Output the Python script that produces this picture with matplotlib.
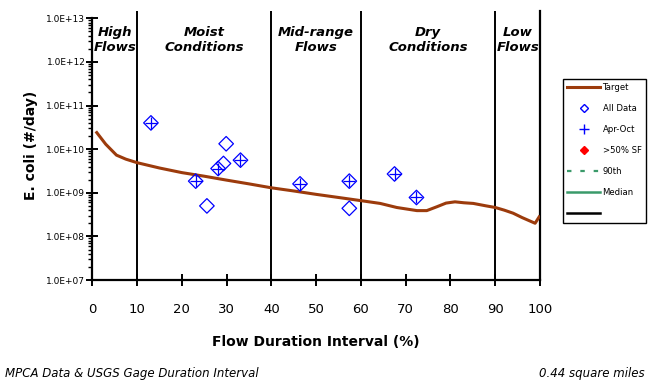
import numpy as np
import matplotlib
matplotlib.use("Agg")
import matplotlib.pyplot as plt
from matplotlib.lines import Line2D

# ----------------------------------------------------------
# Data
# ----------------------------------------------------------

# load duration target curve (flow percentile vs E. coli load)
target_x = [1, 3, 5.4, 7.5, 10, 15, 20, 25, 30, 35, 40, 45, 50, 55, 60, 64.3,
            68, 72.5, 74.7, 77, 79, 81, 83, 85.1, 88, 90, 92, 94, 96, 98.9, 99.8]
target_y = [2.4e10, 1.3e10, 7.3e9, 5.9e9, 4.9e9, 3.7e9, 2.9e9, 2.4e9, 1.95e9,
            1.6e9, 1.3e9, 1.1e9, 9.2e8, 7.8e8, 6.6e8, 5.7e8, 4.6e8, 3.9e8,
            3.9e8, 4.8e8, 5.8e8, 6.2e8, 5.9e8, 5.7e8, 5.0e8, 4.6e8, 4.0e8,
            3.4e8, 2.7e8, 2.0e8, 2.8e8]

# all monitoring samples
all_x = [13.1, 23.1, 25.6, 28.1, 29.3, 29.9, 33.1, 46.4, 57.4, 57.4, 67.5, 72.4]
all_y = [4.0e10, 1.85e9, 5.0e8, 3.6e9, 4.7e9, 1.33e10, 5.6e9, 1.6e9, 1.85e9,
         4.4e8, 2.7e9, 7.8e8]

# April - October samples
aprot_x = [13.1, 23.1, 28.1, 33.1, 46.4, 57.4, 67.5, 72.4]
aprot_y = [4.0e10, 1.85e9, 3.6e9, 5.6e9, 1.6e9, 1.85e9, 2.7e9, 7.8e8]

zones = [10, 40, 60, 90, 100]
zone_labels = ["High\nFlows", "Moist\nConditions", "Mid-range\nFlows",
               "Dry\nConditions", "Low\nFlows"]
zone_centers = [5, 25, 50, 75, 95]

ytick_vals = [1e7, 1e8, 1e9, 1e10, 1e11, 1e12, 1e13]
ytick_labels = ["1.0E+07", "1.0E+08", "1.0E+09", "1.0E+10", "1.0E+11",
                "1.0E+12", "1.0E+13"]

# ----------------------------------------------------------
# Plot
# ----------------------------------------------------------

brown = "#9c3b0c"
green = "#3a9a6a"

fig = plt.figure(figsize=(6.48, 3.83), dpi=100)
ax = fig.add_axes([0.1424, 0.2689, 0.6910, 0.7023])

ax.set_yscale("log")
ax.set_xlim(0, 100)
ax.set_ylim(1e7, 10 ** 13.167)

ax.plot(target_x, target_y, color=brown, linewidth=2.2, zorder=3)
ax.scatter(all_x, all_y, marker="D", s=55, facecolors="none",
           edgecolors="blue", linewidths=0.9, zorder=4)
ax.scatter(aprot_x, aprot_y, marker="+", s=75, color="blue",
           linewidths=0.9, zorder=5)

# flow zone dividers and labels
for z in zones[:-1]:
    ax.axvline(z, color="black", linewidth=1.4, zorder=2)
for xc, txt in zip(zone_centers, zone_labels):
    ax.text(xc, 10 ** 12.82, txt, ha="center", va="top", fontsize=9.5,
            fontstyle="italic", fontweight="bold", linespacing=1.15)

# spines and ticks
ax.spines["top"].set_visible(False)
ax.spines["left"].set_bounds(1e7, 1e13)
for s in ["left", "bottom", "right"]:
    ax.spines[s].set_linewidth(1.6)

ax.set_xticks(range(0, 101, 10))
ax.tick_params(axis="x", direction="inout", length=9, width=1.4,
               labelsize=9.5, pad=12)
ax.set_yticks(ytick_vals)
ax.set_yticklabels(ytick_labels)
ax.tick_params(axis="y", which="major", direction="inout", length=8,
               width=1.4, labelsize=6.5, pad=1)
ax.tick_params(axis="y", which="minor", direction="out", length=3, width=1)
ax.tick_params(axis="y", which="minor", labelleft=False)
ax.yaxis.set_minor_locator(matplotlib.ticker.LogLocator(base=10,
                                                        subs=np.arange(2, 10)))

ax.set_xlabel("Flow Duration Interval (%)", fontsize=10, fontweight="bold",
              labelpad=14)
ax.set_ylabel("E. coli (#/day)", fontsize=10, fontweight="bold", labelpad=6)

# legend
handles = [
    Line2D([], [], color=brown, linewidth=2.2),
    Line2D([], [], marker="D", linestyle="none", markerfacecolor="none",
           markeredgecolor="blue", markersize=4.5),
    Line2D([], [], marker="+", linestyle="none", color="blue", markersize=6.5),
    Line2D([], [], marker="D", linestyle="none", color="red", markersize=4.5),
    Line2D([], [], color=green, linestyle=(0, (2, 4)), linewidth=1.6),
    Line2D([], [], color=green, linewidth=1.8),
    Line2D([], [], color="black", linewidth=1.8),
]
labels = ["Target", "All Data", "Apr-Oct", ">50% SF", "90th", "Median", ""]
leg = fig.legend(handles, labels, loc="upper left",
                 bbox_to_anchor=(0.869, 0.794), fontsize=6.1,
                 handlelength=3.9, handletextpad=0.25, labelspacing=1.42,
                 borderpad=0.5, borderaxespad=0, fancybox=False,
                 framealpha=1, edgecolor="black")
leg.get_frame().set_linewidth(1.0)

fig.text(0.008, 0.008, "MPCA Data & USGS Gage Duration Interval",
         fontsize=8.5, fontstyle="italic", ha="left", va="bottom")
fig.text(0.995, 0.008, "0.44 square miles", fontsize=8.5,
         fontstyle="italic", ha="right", va="bottom")

fig.savefig("out.png", dpi=100)
